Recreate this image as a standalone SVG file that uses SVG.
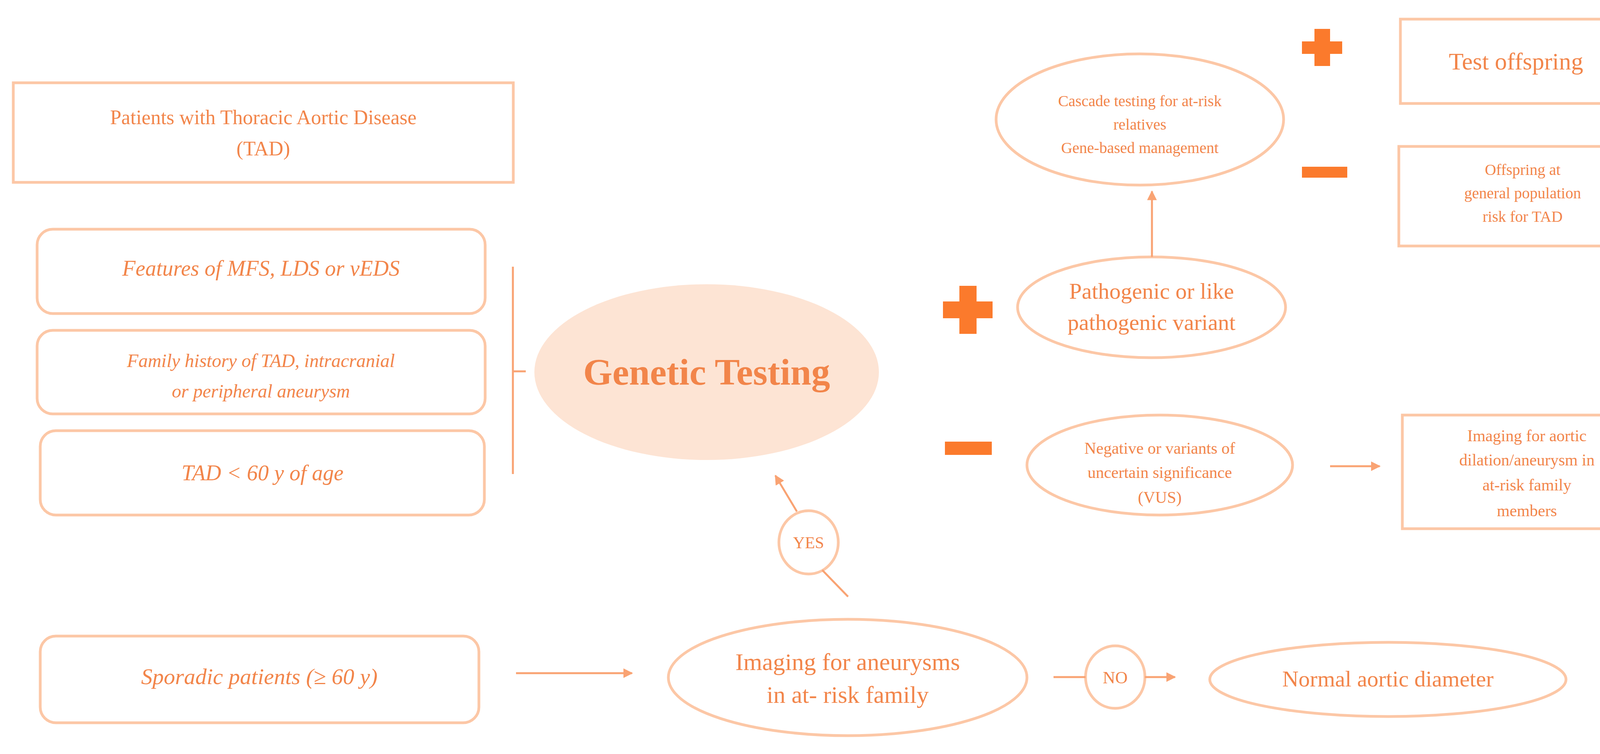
<svg xmlns="http://www.w3.org/2000/svg" width="4271" height="1931" viewBox="0 0 4271 1931">
<defs>
<style>
.s{fill:#fff;stroke:#fcc7a6;stroke-width:7}
.t{font-family:"Liberation Serif",serif;fill:#f2854a;text-anchor:middle}
.i{font-style:italic}
.ln{stroke:#f9a373;stroke-width:5;fill:none}
.sg{fill:#fb7a2c}
</style>
<marker id="a" viewBox="0 0 10 10" refX="9" refY="5" markerWidth="5" markerHeight="5" orient="auto"><path d="M0,0L10,5L0,10z" fill="#f9a373"/></marker>
</defs>
<rect width="4271" height="1931" fill="#fff"/>
<g id="patients"><rect class="s" x="34" y="212" width="1280" height="255"/>
<text class="t" x="674" y="318" font-size="52">Patients with Thoracic Aortic Disease</text>
<text class="t" x="674" y="398" font-size="52">(TAD)</text></g>
<g id="features"><rect class="s" x="95" y="587" width="1147" height="216" rx="40"/>
<text class="t i" x="668" y="706" font-size="56">Features of MFS, LDS or vEDS</text></g>
<g id="family"><rect class="s" x="95" y="846" width="1147" height="214" rx="40"/>
<text class="t i" x="668" y="940" font-size="48">Family history of TAD, intracranial</text>
<text class="t i" x="668" y="1018" font-size="48">or peripheral aneurysm</text></g>
<g id="tad60"><rect class="s" x="103" y="1103" width="1137" height="216" rx="40"/>
<text class="t i" x="672" y="1230" font-size="56">TAD &lt; 60 y of age</text></g>
<g id="bracket"><path class="ln" d="M1313,683V1214M1313,951H1346"/></g>
<g id="genetic"><ellipse cx="1809" cy="953" rx="441" ry="225" fill="#fde4d4"/>
<text class="t" x="1809" y="985" font-size="96" font-weight="bold">Genetic Testing</text></g>
<g id="plus1"><rect class="sg" x="2456" y="732" width="44" height="123"/><rect class="sg" x="2414" y="772" width="127" height="43"/></g>
<g id="minus1"><rect class="sg" x="2419" y="1131" width="120" height="34"/></g>
<g id="pathogenic"><ellipse class="s" cx="2948" cy="787" rx="343" ry="129"/>
<text class="t" x="2948" y="765" font-size="58">Pathogenic or like</text>
<text class="t" x="2948" y="845" font-size="58">pathogenic variant</text></g>
<g id="cascade"><ellipse class="s" cx="2918" cy="306" rx="368" ry="168"/>
<text class="t" x="2918" y="272" font-size="40">Cascade testing for at-risk</text>
<text class="t" x="2918" y="332" font-size="40">relatives</text>
<text class="t" x="2918" y="392" font-size="40">Gene-based management</text></g>
<g id="plus2"><rect class="sg" x="3365" y="74" width="40" height="95"/><rect class="sg" x="3333" y="106" width="103" height="32"/></g>
<g id="minus2"><rect class="sg" x="3333" y="427" width="116" height="28"/></g>
<g id="testoff"><rect class="s" x="3585" y="49" width="593" height="216"/>
<text class="t" x="3881" y="178" font-size="62">Test offspring</text></g>
<g id="offspring"><rect class="s" x="3581" y="375" width="635" height="255"/>
<text class="t" x="3898" y="448" font-size="40">Offspring at</text>
<text class="t" x="3898" y="508" font-size="40">general population</text>
<text class="t" x="3898" y="568" font-size="40">risk for TAD</text></g>
<g id="negative"><ellipse class="s" cx="2969" cy="1191" rx="340" ry="128"/>
<text class="t" x="2969" y="1162" font-size="42">Negative or variants of</text>
<text class="t" x="2969" y="1224" font-size="42">uncertain significance</text>
<text class="t" x="2969" y="1288" font-size="42">(VUS)</text></g>
<g id="imgaortic"><rect class="s" x="3590" y="1063" width="638" height="291"/>
<text class="t" x="3909" y="1130" font-size="42">Imaging for aortic</text>
<text class="t" x="3909" y="1192" font-size="42">dilation/aneurysm in</text>
<text class="t" x="3909" y="1256" font-size="42">at-risk family</text>
<text class="t" x="3909" y="1322" font-size="42">members</text></g>
<g id="sporadic"><rect class="s" x="103" y="1629" width="1123" height="222" rx="40"/>
<text class="t i" x="664" y="1752" font-size="58">Sporadic patients (≥ 60 y)</text></g>
<g id="imganeur"><ellipse class="s" cx="2170" cy="1735" rx="459" ry="149"/>
<text class="t" x="2170" y="1716" font-size="62">Imaging for aneurysms</text>
<text class="t" x="2170" y="1800" font-size="62">in at- risk family</text></g>
<g id="yes"><ellipse class="s" cx="2070" cy="1389" rx="76" ry="81"/>
<text class="t" x="2070" y="1404" font-size="42">YES</text></g>
<g id="no"><ellipse class="s" cx="2855" cy="1734" rx="76" ry="80"/>
<text class="t" x="2855" y="1750" font-size="44">NO</text></g>
<g id="normal"><ellipse class="s" cx="3553" cy="1740" rx="456" ry="95"/>
<text class="t" x="3553" y="1758" font-size="58">Normal aortic diameter</text></g>
<g id="connectors">
<path class="ln" d="M2949,658V490" marker-end="url(#a)"/>
<path class="ln" d="M3405,1194H3532" marker-end="url(#a)"/>
<path class="ln" d="M1321,1724H1618" marker-end="url(#a)"/>
<path class="ln" d="M2171,1528L2105,1460"/>
<path class="ln" d="M2040,1310L1985,1218" marker-end="url(#a)"/>
<path class="ln" d="M2697,1734H2779"/>
<path class="ln" d="M2931,1734H3008" marker-end="url(#a)"/>
</g>
</svg>
